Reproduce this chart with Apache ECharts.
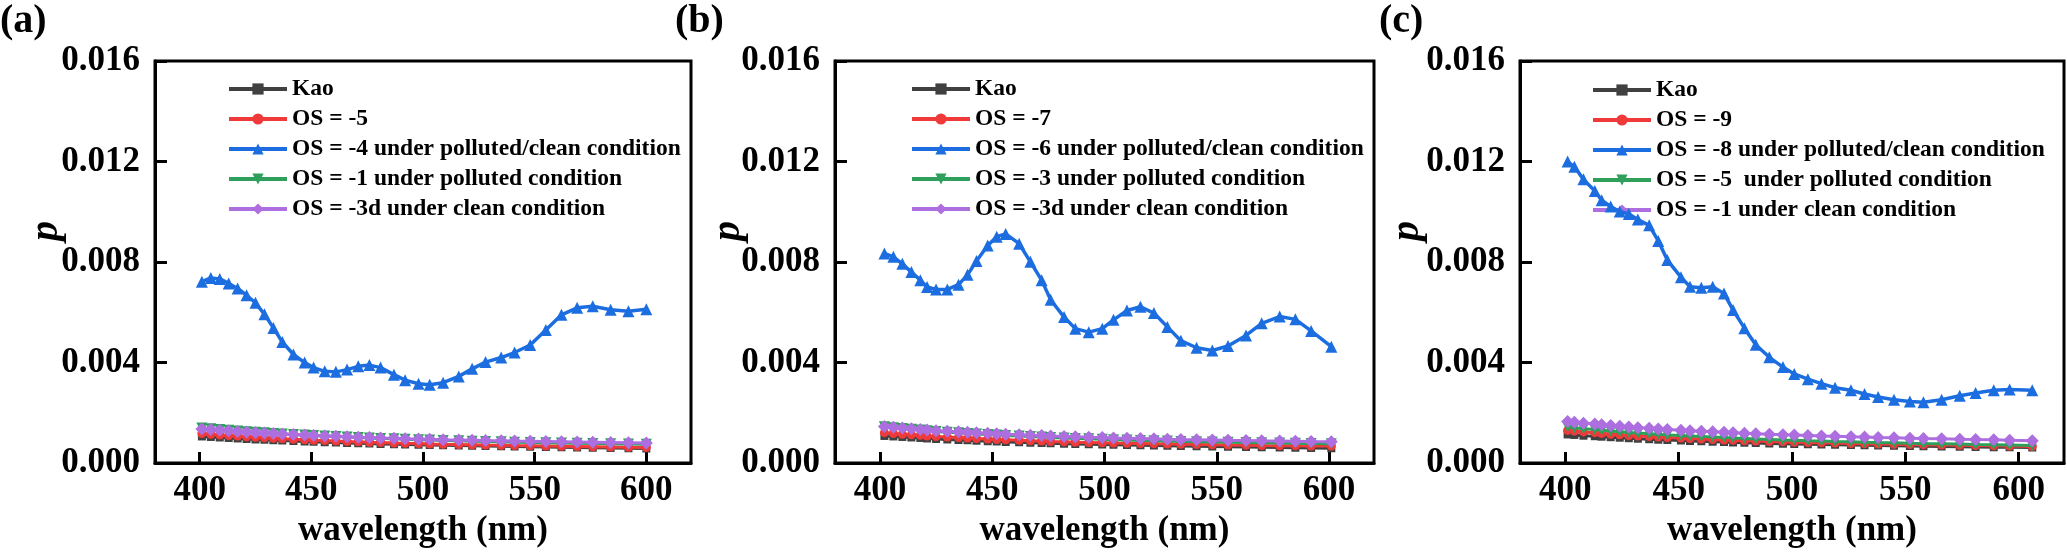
<!DOCTYPE html>
<html>
<head>
<meta charset="utf-8">
<script src="https://cdn.jsdelivr.net/npm/echarts@6/dist/echarts.min.js"></script>
<style>
html,body{margin:0;padding:0;background:#fff;}
#chart{width:2067px;height:553px;}
</style>
</head>
<body>
<div id="chart"></div>
<script>
// ---------- tick labels ----------
var xTicks = [400, 450, 500, 550, 600];
var yTicks = [0, 0.004, 0.008, 0.012, 0.016];

// ---------- panel (a) ----------
var namesA = ['Kao', 'OS = -5', 'OS = -4 under polluted/clean condition', 'OS = -1 under polluted condition', 'OS = -3d under clean condition'];
var wlA = [401,405,409,413,417,421,425,429,433,437,442,447,451,456,461,466,471,476,481,487,492,498,503,509,516,522,528,535,541,548,555,562,569,576,584,592,600];
var kaoA = [0.00106,0.00104,0.00102,0.00100,0.00098,0.00096,0.00094,0.00093,0.00091,0.00090,0.00088,0.00086,0.00085,0.00083,0.00082,0.00080,0.00079,0.00078,0.00076,0.00075,0.00074,0.00073,0.00072,0.00071,0.00070,0.00069,0.00068,0.00067,0.00066,0.00065,0.00064,0.00063,0.00062,0.00061,0.00060,0.00059,0.00058];
var redA = [0.00118,0.00115,0.00112,0.00110,0.00108,0.00105,0.00103,0.00101,0.00099,0.00097,0.00095,0.00093,0.00091,0.00090,0.00088,0.00086,0.00085,0.00083,0.00082,0.00080,0.00079,0.00078,0.00076,0.00075,0.00074,0.00073,0.00072,0.00071,0.00070,0.00069,0.00068,0.00067,0.00066,0.00065,0.00064,0.00063,0.00062];
var blueA = [0.00722,0.00737,0.00733,0.00715,0.00695,0.00668,0.00638,0.00592,0.00538,0.00482,0.00432,0.00400,0.00380,0.00365,0.00363,0.00372,0.00385,0.00390,0.00380,0.00352,0.00330,0.00316,0.00312,0.00320,0.00345,0.00375,0.00402,0.00420,0.00440,0.00470,0.00530,0.00590,0.00618,0.00624,0.00610,0.00604,0.00612];
var greenA = [0.00140,0.00137,0.00134,0.00131,0.00128,0.00125,0.00123,0.00121,0.00118,0.00116,0.00114,0.00112,0.00110,0.00108,0.00106,0.00104,0.00102,0.00100,0.00098,0.00097,0.00095,0.00093,0.00092,0.00090,0.00089,0.00087,0.00086,0.00085,0.00083,0.00082,0.00081,0.00080,0.00079,0.00078,0.00077,0.00076,0.00075];
var purpleA = [0.00136,0.00134,0.00131,0.00129,0.00126,0.00124,0.00122,0.00120,0.00118,0.00116,0.00114,0.00112,0.00110,0.00108,0.00107,0.00105,0.00103,0.00102,0.00100,0.00099,0.00097,0.00096,0.00095,0.00093,0.00092,0.00091,0.00090,0.00089,0.00088,0.00087,0.00086,0.00085,0.00084,0.00083,0.00082,0.00081,0.00080];

// ---------- panel (b) ----------
var namesB = ['Kao', 'OS = -7', 'OS = -6 under polluted/clean condition', 'OS = -3 under polluted condition', 'OS = -3d under clean condition'];
var wlB = [402,406,410,414,418,421,425,430,435,439,443,448,452,456,462,467,472,476,482,487,493,499,504,510,516,522,528,534,541,548,555,563,570,578,585,592,601];
var kaoB = [0.00108,0.00106,0.00104,0.00102,0.00100,0.00098,0.00096,0.00094,0.00092,0.00091,0.00089,0.00087,0.00086,0.00084,0.00083,0.00081,0.00080,0.00079,0.00077,0.00076,0.00075,0.00074,0.00073,0.00072,0.00071,0.00070,0.00069,0.00068,0.00067,0.00066,0.00065,0.00064,0.00063,0.00062,0.00061,0.00060,0.00059];
var redB = [0.00121,0.00118,0.00115,0.00113,0.00111,0.00108,0.00106,0.00104,0.00102,0.00100,0.00098,0.00096,0.00094,0.00093,0.00091,0.00089,0.00088,0.00086,0.00085,0.00083,0.00082,0.00081,0.00080,0.00079,0.00078,0.00077,0.00076,0.00075,0.00074,0.00073,0.00072,0.00071,0.00070,0.00069,0.00069,0.00068,0.00068];
var blueB = [0.00834,0.00821,0.00793,0.00760,0.00728,0.00701,0.00691,0.00691,0.00710,0.00749,0.00804,0.00866,0.00901,0.00912,0.00873,0.00801,0.00728,0.00650,0.00581,0.00535,0.00521,0.00535,0.00570,0.00607,0.00622,0.00597,0.00542,0.00487,0.00459,0.00448,0.00466,0.00508,0.00556,0.00583,0.00572,0.00526,0.00463];
var greenB = [0.00145,0.00141,0.00138,0.00135,0.00132,0.00129,0.00126,0.00123,0.00121,0.00118,0.00116,0.00114,0.00112,0.00110,0.00108,0.00106,0.00104,0.00102,0.00100,0.00098,0.00097,0.00095,0.00093,0.00092,0.00090,0.00089,0.00088,0.00086,0.00085,0.00084,0.00083,0.00082,0.00081,0.00080,0.00079,0.00078,0.00077];
var purpleB = [0.00146,0.00143,0.00140,0.00137,0.00134,0.00132,0.00129,0.00127,0.00125,0.00123,0.00121,0.00119,0.00117,0.00115,0.00113,0.00111,0.00110,0.00108,0.00106,0.00105,0.00103,0.00102,0.00100,0.00099,0.00098,0.00097,0.00095,0.00094,0.00093,0.00092,0.00091,0.00090,0.00089,0.00088,0.00087,0.00086,0.00085];

// ---------- panel (c) ----------
var namesC = ['Kao', 'OS = -9', 'OS = -8 under polluted/clean condition', 'OS = -5  under polluted condition', 'OS = -1 under clean condition'];
var wlC = [401,404,408,413,416,420,424,428,432,437,441,445,451,455,460,465,470,474,479,484,490,496,501,507,513,519,526,532,538,545,552,558,566,574,581,589,596,606];
var kaoC = [0.00114,0.00112,0.00109,0.00107,0.00105,0.00103,0.00101,0.00099,0.00097,0.00095,0.00093,0.00092,0.00090,0.00088,0.00087,0.00085,0.00084,0.00082,0.00081,0.00080,0.00078,0.00077,0.00076,0.00075,0.00074,0.00073,0.00072,0.00071,0.00070,0.00069,0.00068,0.00067,0.00066,0.00065,0.00064,0.00063,0.00063,0.00062];
var redC = [0.00130,0.00127,0.00124,0.00121,0.00118,0.00115,0.00113,0.00110,0.00108,0.00106,0.00104,0.00102,0.00100,0.00098,0.00096,0.00094,0.00092,0.00091,0.00089,0.00088,0.00086,0.00085,0.00083,0.00082,0.00081,0.00080,0.00078,0.00077,0.00076,0.00075,0.00074,0.00073,0.00072,0.00071,0.00070,0.00069,0.00068,0.00066];
var blueC = [0.01200,0.01179,0.01129,0.01083,0.01046,0.01021,0.01001,0.00991,0.00969,0.00946,0.00884,0.00808,0.00740,0.00702,0.00698,0.00702,0.00675,0.00609,0.00537,0.00471,0.00421,0.00382,0.00355,0.00334,0.00316,0.00300,0.00290,0.00275,0.00263,0.00252,0.00245,0.00242,0.00252,0.00268,0.00279,0.00290,0.00293,0.00290];
var greenC = [0.00144,0.00141,0.00137,0.00134,0.00131,0.00128,0.00125,0.00122,0.00120,0.00117,0.00115,0.00112,0.00110,0.00108,0.00106,0.00104,0.00102,0.00100,0.00098,0.00096,0.00094,0.00092,0.00091,0.00089,0.00088,0.00086,0.00085,0.00083,0.00082,0.00081,0.00079,0.00078,0.00077,0.00076,0.00074,0.00073,0.00072,0.00070];
var purpleC = [0.00166,0.00163,0.00159,0.00156,0.00153,0.00150,0.00147,0.00144,0.00141,0.00139,0.00136,0.00134,0.00131,0.00129,0.00127,0.00125,0.00123,0.00121,0.00119,0.00117,0.00115,0.00113,0.00112,0.00110,0.00108,0.00107,0.00105,0.00104,0.00102,0.00101,0.00099,0.00098,0.00097,0.00095,0.00094,0.00093,0.00091,0.00089];

// ---------- build ----------
var FONT = '"Liberation Serif","Times New Roman",serif';
var colors = ['#404040', '#f03a3a', '#1c6ee0', '#2ea05c', '#ad6ee0'];
var symbols = ['rect', 'circle', 'triangle', 'path://M0,0L2,0L1,1.8Z', 'diamond'];
var symSizes = [8, 9, 12, 11, 13];
var lineWidths = [3, 3, 3.5, 3, 3];

var panels = [
  {names: namesA, wl: wlA, ys: [kaoA, redA, blueA, greenA, purpleA], grid: {left: 155, top: 61, width: 536, height: 409}, legend: {left: 222, top: 72}, tag: '(a)', tagX: 0, pX: 47},
  {names: namesB, wl: wlB, ys: [kaoB, redB, blueB, greenB, purpleB], grid: {left: 835, top: 61, width: 539, height: 409}, legend: {left: 905, top: 72}, tag: '(b)', tagX: 675, pX: 729},
  {names: namesC, wl: wlC, ys: [kaoC, redC, blueC, greenC, purpleC], grid: {left: 1520, top: 61, width: 544, height: 409}, legend: {left: 1586, top: 73}, tag: '(c)', tagX: 1379, pX: 1408}
];

var grids = [], xAxes = [], yAxes = [], series = [], legends = [], graphics = [];
panels.forEach(function (p, i) {
  grids.push({left: p.grid.left, top: p.grid.top, width: p.grid.width, height: p.grid.height,
    show: true, borderColor: '#000', borderWidth: 3, backgroundColor: 'transparent', containLabel: false});
  xAxes.push({
    gridIndex: i, type: 'value', min: 380, max: 620,
    axisLine: {show: true, onZero: false, lineStyle: {color: '#000', width: 3}},
    axisTick: {show: true, inside: true, length: 11, lineStyle: {color: '#000', width: 3}, customValues: xTicks},
    axisLabel: {customValues: xTicks, color: '#000', fontSize: 35, fontWeight: 'bold', fontFamily: FONT, margin: 10},
    splitLine: {show: false},
    name: 'wavelength (nm)', nameLocation: 'middle', nameGap: 40,
    nameTextStyle: {color: '#000', fontSize: 35, fontWeight: 'bold', fontFamily: FONT}
  });
  yAxes.push({
    gridIndex: i, type: 'value', min: 0, max: 0.016, interval: 0.004,
    axisLine: {show: true, onZero: false, lineStyle: {color: '#000', width: 3}},
    axisTick: {show: true, inside: true, length: 12, lineStyle: {color: '#000', width: 3}},
    axisLabel: {color: '#000', fontSize: 35, fontWeight: 'bold', fontFamily: FONT, margin: 15,
      formatter: function (v) { return v.toFixed(3); }},
    splitLine: {show: false}
  });
  p.names.forEach(function (nm, k) {
    series.push({
      type: 'line', name: nm, xAxisIndex: i, yAxisIndex: i,
      data: p.wl.map(function (w, j) { return [w, p.ys[k][j]]; }),
      symbol: symbols[k], symbolSize: symSizes[k], showSymbol: true,
      lineStyle: {color: colors[k], width: lineWidths[k]},
      itemStyle: {color: colors[k]},
      z: 2 + k, animation: false, silent: true
    });
  });
  legends.push({
    left: p.legend.left, top: p.legend.top, orient: 'vertical',
    itemWidth: 58, itemHeight: 14, itemGap: 6, selectedMode: false,
    data: p.names,
    lineStyle: {width: 4},
    textStyle: {color: '#000', fontSize: 23.5, fontWeight: 'bold', fontFamily: FONT, lineHeight: 24}
  });
  graphics.push({type: 'text', left: p.tagX, top: 2,
    style: {text: p.tag, font: 'bold 40px ' + FONT, fill: '#000'}});
  graphics.push({type: 'text', x: p.pX, y: 231, rotation: Math.PI / 2,
    style: {text: 'p', font: 'italic bold 40px ' + FONT, fill: '#000', align: 'center', verticalAlign: 'middle'}});
});

var chart = echarts.init(document.getElementById('chart'), null, {renderer: 'canvas'});
chart.setOption({
  animation: false,
  backgroundColor: '#fff',
  grid: grids, xAxis: xAxes, yAxis: yAxes, legend: legends, series: series, graphic: graphics
});
</script>
</body>
</html>
